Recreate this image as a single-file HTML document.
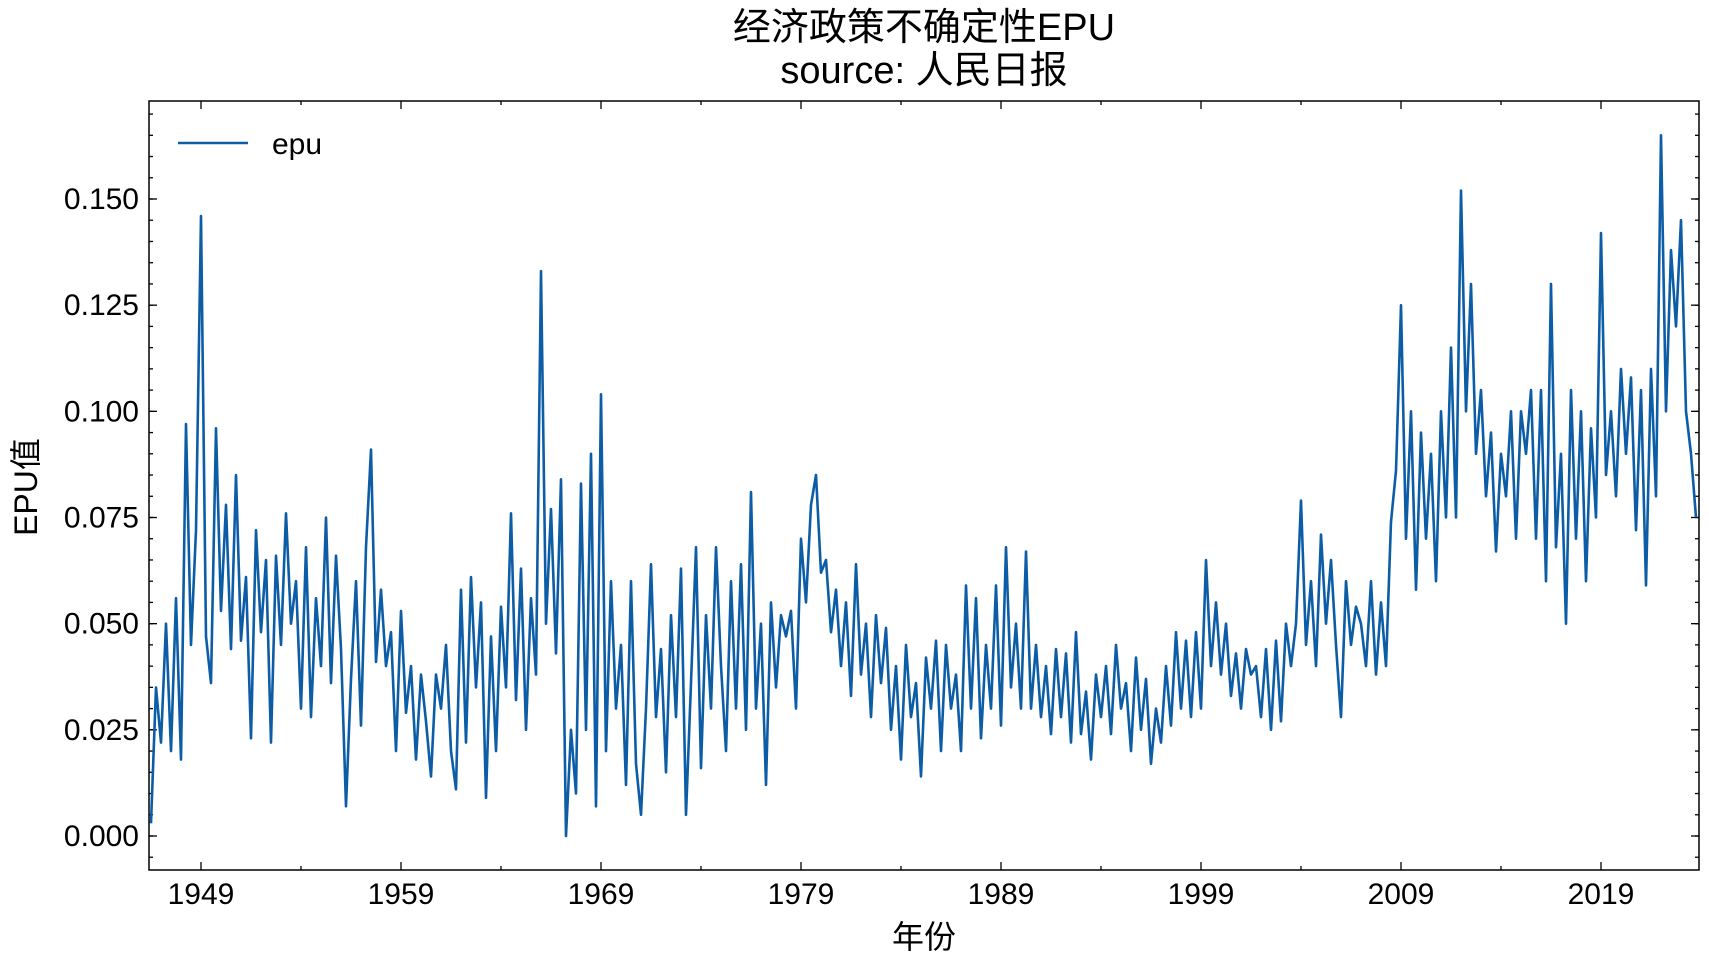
<!DOCTYPE html>
<html><head><meta charset="utf-8"><style>
body{margin:0;background:#fff;}
svg{display:block;font-family:"Liberation Sans","Noto Sans CJK SC",sans-serif;}
</style></head><body>
<svg id="chart" width="1709" height="967" viewBox="0 0 1709 967">
<text x="924" y="40" font-size="38" text-anchor="middle">经济政策不确定性EPU</text>
<text x="924" y="83" font-size="38" text-anchor="middle">source: 人民日报</text>
<text x="924" y="948" font-size="32" text-anchor="middle">年份</text>
<text transform="translate(37,487) rotate(-90)" font-size="32" text-anchor="middle">EPU值</text>
<g id="axes"></g>
<path id="series" fill="none" stroke="#0C5DA5" stroke-width="2.6" stroke-linejoin="round"></path>
<rect x="149" y="101" width="1550" height="769" fill="none" stroke="#000" stroke-width="1.5"></rect>
<g>
<line x1="178" y1="143" x2="248" y2="143" stroke="#0C5DA5" stroke-width="2.6"></line>
<text x="272" y="154" font-size="30">epu</text>
</g>
</svg>
<script>
const startYear = 1946.5;
const stepYears = 0.25;
const values = [
0.003,0.035,
0.022,0.05,0.02,0.056,
0.018,0.097,0.045,0.072,
0.146,0.047,0.036,0.096,
0.053,0.078,0.044,0.085,
0.046,0.061,0.023,0.072,
0.048,0.065,0.022,0.066,
0.045,0.076,0.05,0.06,
0.03,0.068,0.028,0.056,
0.04,0.075,0.036,0.066,
0.044,0.007,0.037,0.06,
0.026,0.068,0.091,0.041,
0.058,0.04,0.048,0.02,
0.053,0.029,0.04,0.018,
0.038,0.027,0.014,0.038,
0.03,0.045,0.02,
0.011,0.058,0.022,0.061,
0.035,0.055,0.009,0.047,
0.02,0.054,0.035,0.076,
0.032,0.063,0.025,0.056,
0.038,0.133,0.05,0.077,
0.043,0.084,0.0,0.025,
0.01,0.083,0.025,0.09,
0.007,0.104,0.02,0.06,
0.03,0.045,0.012,0.06,
0.017,0.005,0.03,0.064,
0.028,0.044,0.015,0.052,
0.028,0.063,0.005,
0.036,0.068,0.016,0.052,
0.03,0.068,0.04,0.02,
0.06,0.03,0.064,0.025,
0.081,0.03,0.05,0.012,
0.055,0.035,
0.052,0.047,0.053,0.03,
0.07,0.055,0.078,0.085,
0.062,0.065,0.048,0.058,
0.04,0.055,0.033,0.064,
0.038,0.05,0.028,0.052,
0.036,0.049,0.025,0.04,
0.018,0.045,0.028,0.036,
0.014,0.042,0.03,0.046,
0.02,0.045,0.03,0.038,
0.02,0.059,0.03,0.056,
0.023,0.045,0.03,0.059,
0.026,0.068,0.035,0.05,
0.03,0.067,0.03,0.045,
0.028,0.04,0.024,0.044,
0.028,0.043,0.022,0.048,
0.024,0.034,0.018,0.038,
0.028,0.04,0.024,0.045,
0.03,0.036,0.02,0.042,
0.025,0.037,0.017,0.03,
0.022,0.04,0.026,0.048,
0.03,0.046,0.028,0.048,
0.03,0.065,0.04,0.055,
0.038,0.05,0.033,0.043,
0.03,0.044,0.038,0.04,
0.028,0.044,0.025,0.046,
0.027,0.05,0.04,0.05,
0.079,0.045,0.06,0.04,
0.071,0.05,0.065,0.045,
0.028,0.06,0.045,0.054,
0.05,0.04,0.06,0.038,
0.055,0.04,0.074,0.086,
0.125,0.07,0.1,0.058,
0.095,0.07,0.09,0.06,
0.1,0.075,0.115,0.075,
0.152,0.1,0.13,0.09,
0.105,0.08,0.095,0.067,
0.09,0.08,0.1,0.07,
0.1,0.09,0.105,0.07,
0.105,0.06,0.13,0.068,
0.09,0.05,0.105,0.07,
0.1,0.06,0.096,0.075,
0.142,0.085,0.1,0.08,
0.11,0.09,0.108,0.072,
0.105,0.059,0.11,0.08,
0.165,0.1,0.138,0.12,
0.145,0.1,0.09,0.075
];
const xTickLabels = ["1949","1959","1969","1979","1989","1999","2009","2019"];
const yTickLabels = ["0.000","0.025","0.050","0.075","0.100","0.125","0.150"];

const L=149,R=1699,T=101,B=870;
function xs(yr){return 201+(yr-1949)*20;}
function ys(v){return 836-v*(637/0.15);}
const NS="http://www.w3.org/2000/svg";
const ax=document.getElementById('axes');
function ln(x1,y1,x2,y2,name){
const e=document.createElementNS(NS,'line');
e.setAttribute('x1',x1);e.setAttribute('y1',y1);e.setAttribute('x2',x2);e.setAttribute('y2',y2);
e.setAttribute('stroke','#000');e.setAttribute('stroke-width','1.3');


ax.appendChild(e);}
function tx(x,y,s,anchor,name){
const e=document.createElementNS(NS,'text');
e.setAttribute('x',x);e.setAttribute('y',y);e.setAttribute('font-size','30');e.setAttribute('text-anchor',anchor);
e.textContent=s;


ax.appendChild(e);}
xTickLabels.forEach(s=>{const x=xs(+s);ln(x,B,x,B-8,'x-tick');ln(x,T,x,T+8,'x-tick-top');tx(x,B+34,s,'middle','x-tick-label');});
for(let yr=1944;yr<2030;yr+=10){const x=xs(yr);if(x>L&&x<R){ln(x,B,x,B-4,'x-minor-tick');ln(x,T,x,T+4,'x-minor-tick-top');}}
yTickLabels.forEach(s=>{const y=ys(+s);ln(L,y,L+8,y,'y-tick');ln(R,y,R-8,y,'y-tick-right');tx(L-10,y+10,s,'end','y-tick-label');});
for(let v=-0.01;v<0.18;v+=0.005){const y=ys(v);if(y>T&&y<B){ln(L,y,L+4,y,'y-minor-tick');ln(R,y,R-4,y,'y-minor-tick-right');}}
let d='';
values.forEach((v,i)=>{const x=xs(startYear+i*stepYears);d+=(i?'L':'M')+x.toFixed(1)+' '+ys(v).toFixed(1);});
document.getElementById('series').setAttribute('d',d);
</script>
</body></html>
